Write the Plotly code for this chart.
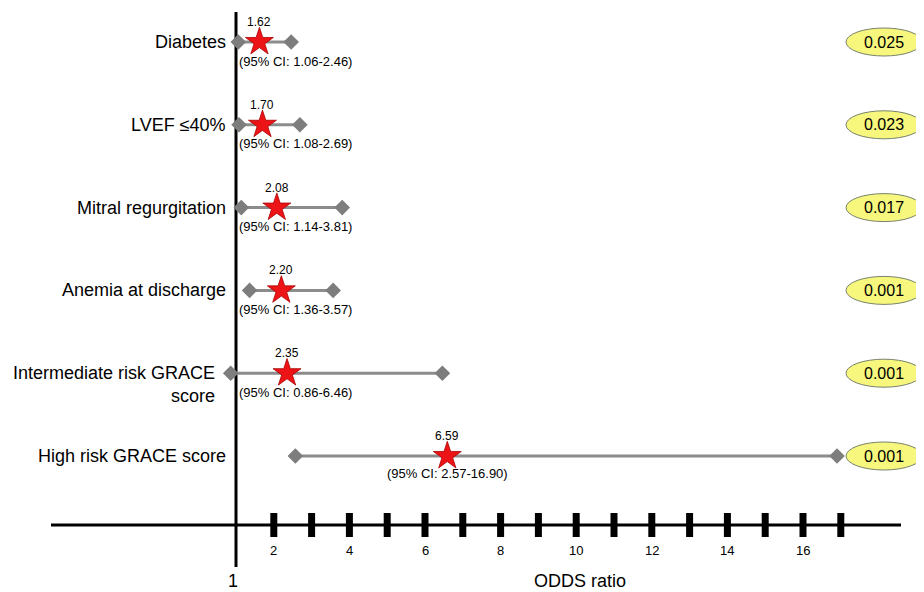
import plotly.graph_objects as go

# ---------------- data ----------------
factors = ["Diabetes", "LVEF ≤40%", "Mitral regurgitation", "Anemia at discharge",
           "Intermediate risk GRACE<br>score", "High risk GRACE score"]
odds_ratio = [1.62, 1.70, 2.08, 2.20, 2.35, 6.59]
ci_low = [1.06, 1.08, 1.14, 1.36, 0.86, 2.57]
ci_high = [2.46, 2.69, 3.81, 3.57, 6.46, 16.90]
or_labels = ["1.62", "1.70", "2.08", "2.20", "2.35", "6.59"]
p_values = ["0.025", "0.023", "0.017", "0.001", "0.001", "0.001"]
tick_values = list(range(2, 18))
tick_labels = [str(v) if v % 2 == 0 else "" for v in tick_values]
ref_value = 1
axis_title = "ODDS ratio"

# ---------------- layout helpers ----------------
OFF = 8                     # page body margin (top/left)
W, H = 924 - OFF, 592 - OFF
FONT = "Liberation Sans, Arial, Helvetica, sans-serif"
PX_PER_UNIT = 37.8
REF_PX = 236 - OFF
X_RANGE = [ref_value - REF_PX / PX_PER_UNIT, ref_value + (W - REF_PX) / PX_PER_UNIT]
ROW0_PX, ROW_STEP = 42 - OFF, 82.8
Y_RANGE = [(H - ROW0_PX) / ROW_STEP, -ROW0_PX / ROW_STEP]


def py(px):
    """screen pixel (from top) -> paper y"""
    return 1 - (px - OFF) / H


def pxx(px):
    """screen pixel (from left) -> paper x"""
    return (px - OFF) / W


rows = list(range(len(factors)))

fig = go.Figure()

# CI lines with diamond ends
xs, ys = [], []
for i, lo, hi in zip(rows, ci_low, ci_high):
    xs += [lo, hi, None]
    ys += [i, i, None]
fig.add_trace(go.Scatter(
    x=xs, y=ys, mode="lines+markers",
    line=dict(color="rgb(140,140,140)", width=3),
    marker=dict(symbol="diamond", size=12, color="rgb(125,125,125)"),
    hoverinfo="skip", showlegend=False, cliponaxis=False,
))

# odds ratio stars
fig.add_trace(go.Scatter(
    x=odds_ratio, y=rows, mode="markers",
    marker=dict(symbol="star", size=21, color="rgb(236,20,22)",
                line=dict(color="rgb(170,0,0)", width=0.8)),
    showlegend=False, cliponaxis=False,
))

shapes = []
annotations = []

# reference vertical line
shapes.append(dict(type="line", xref="x", yref="paper", x0=ref_value, x1=ref_value,
                   y0=py(567), y1=py(12), line=dict(color="black", width=3), layer="below"))
# horizontal axis line
shapes.append(dict(type="line", xref="paper", yref="paper", x0=pxx(51), x1=pxx(901),
                   y0=py(525), y1=py(525), line=dict(color="black", width=3), layer="below"))
# tick blocks
for v in tick_values:
    shapes.append(dict(type="rect", xref="x", yref="paper", xsizemode="pixel", xanchor=v,
                       x0=-3.5, x1=3.5, y0=py(537), y1=py(513),
                       fillcolor="black", line=dict(width=0)))
for v, lab in zip(tick_values, tick_labels):
    if lab:
        annotations.append(dict(x=v, y=py(550), xref="x", yref="paper", text=lab,
                                showarrow=False, xanchor="center", yanchor="middle",
                                font=dict(size=13, color="black", family=FONT)))
annotations.append(dict(x=ref_value, y=py(592), xref="x", yref="paper", text=str(ref_value),
                        showarrow=False, xshift=-3, xanchor="center", yanchor="bottom",
                        borderpad=0, font=dict(size=18, color="black", family=FONT)))
annotations.append(dict(x=pxx(580), y=py(592), xref="paper", yref="paper", text=axis_title,
                        showarrow=False, xanchor="center", yanchor="bottom", borderpad=0,
                        font=dict(size=18, color="black", family=FONT)))

for i, name, lo, hi, orv, orl, p in zip(rows, factors, ci_low, ci_high, odds_ratio, or_labels, p_values):
    # factor label
    two_line = "<br>" in name
    annotations.append(dict(
        x=min(ref_value, lo), y=i, xref="x", yref="y", text=name, showarrow=False,
        xanchor="right", yanchor="middle", align="right",
        xshift=-8 - (6 if lo < ref_value else 0), yshift=-11 if two_line else 0,
        font=dict(size=18, color="black", family=FONT)))
    # OR value above star
    annotations.append(dict(x=orv, y=i, xref="x", yref="y", text=orl, showarrow=False,
                            xanchor="center", yanchor="middle", yshift=20,
                            font=dict(size=12, color="black", family=FONT)))
    # CI text below
    ci_text = f"(95% CI: {lo:.2f}-{hi:.2f})"
    star_px = REF_PX + (orv - ref_value) * PX_PER_UNIT
    if star_px - 60 < REF_PX:
        annotations.append(dict(x=ref_value, y=i, xref="x", yref="y", text=ci_text,
                                showarrow=False, xanchor="left", yanchor="middle",
                                xshift=1, yshift=-19,
                                font=dict(size=13, color="black", family=FONT)))
    else:
        annotations.append(dict(x=orv, y=i, xref="x", yref="y", text=ci_text,
                                showarrow=False, xanchor="center", yanchor="middle",
                                yshift=-17,
                                font=dict(size=13, color="black", family=FONT)))
    # p-value ellipse
    shapes.append(dict(type="circle", xref="paper", yref="y", x0=pxx(846), x1=pxx(922),
                       ysizemode="pixel", yanchor=i, y0=-14, y1=14,
                       fillcolor="rgb(247,247,125)", line=dict(color="rgb(120,130,110)", width=1)))
    annotations.append(dict(x=pxx(884), y=i, xref="paper", yref="y", text=p, showarrow=False,
                            xanchor="center", yanchor="middle",
                            font=dict(size=16, color="black", family=FONT)))

fig.update_layout(
    width=W, height=H,
    margin=dict(l=0, r=0, t=0, b=0),
    paper_bgcolor="white", plot_bgcolor="white",
    xaxis=dict(range=X_RANGE, visible=False, showgrid=False, zeroline=False),
    yaxis=dict(range=Y_RANGE, visible=False, showgrid=False, zeroline=False),
    shapes=shapes, annotations=annotations,
    font=dict(family=FONT),
)

fig.write_html("out.html")
